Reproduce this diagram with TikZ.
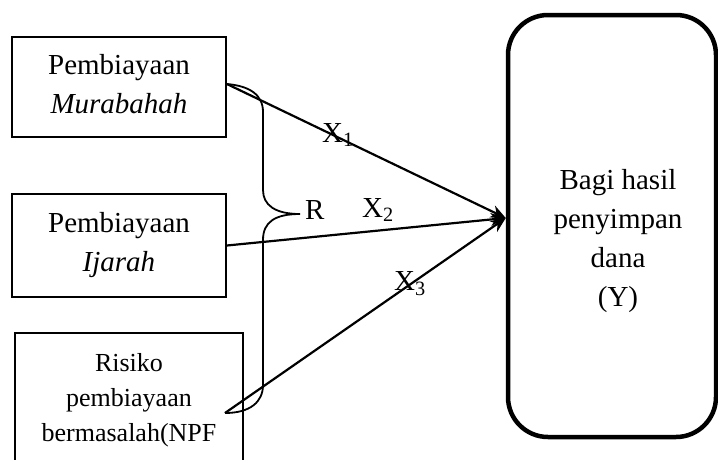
\documentclass[tikz,border=0pt]{standalone}
\usepackage{fontspec}
\setmainfont{Liberation Serif}
\usetikzlibrary{arrows.meta}
\begin{document}
\begin{tikzpicture}[x=1pt,y=-1pt,
  box/.style={draw,line width=1.8pt,align=center,inner sep=0pt,font=\fontsize{29}{39}\selectfont},
  bigbox/.style={draw,line width=4.5pt,rounded corners=40pt,align=center,inner sep=0pt,font=\fontsize{29}{39}\selectfont},
  conn/.style={line width=2.2pt,-{Stealth[length=15pt,width=13pt]}},
  brace/.style={line width=1.8pt},
  lbl/.style={anchor=west,inner sep=0pt,font=\fontsize{29}{29}\selectfont}]
\clip (0,0) rectangle (718,459);
\fill[white] (0,0) rectangle (718,459);
\node[box,minimum width=214pt,minimum height=100pt] (b1) at (119,87) {};
\node[align=center,inner sep=0pt,font=\fontsize{29}{39}\selectfont] (t1) at (119,84) {Pembiayaan\\\textit{Murabahah}};
\node[box,minimum width=214pt,minimum height=103pt] (b2) at (119,245.5) {Pembiayaan\\\textit{Ijarah}};
\node[box,minimum width=228pt,minimum height=150pt] (b3) at (129,408) {};
\node[align=center,inner sep=0pt,font=\fontsize{26}{35}\selectfont] (t3) at (129,400) {Risiko\\pembiayaan\\bermasalah(NPF};
\node[bigbox,minimum width=208pt,minimum height=422pt] (Y) at (612,226) {};
\node[align=center,inner sep=0pt,font=\fontsize{29}{39}\selectfont] (ty) at (618,241) {Bagi hasil\\penyimpan\\dana\\(Y)};
\coordinate (tip) at ([yshift=8pt]Y.west);
\coordinate (s1) at ([yshift=3pt]b1.east);
\coordinate (s2) at (b2.east);
\coordinate (s3) at (225,413);
\coordinate (r) at (300,214);
\draw[conn] (s1) -- (tip);
\draw[conn] (s2) -- (tip);
\draw[conn] (s3) -- (tip);
\draw[brace] (s1) .. controls (250,86) and (263,95) .. (263,112) -- (263,190)
  .. controls (263,205) and (275,214) .. (r)
  .. controls (275,214) and (263,222) .. (263,240) -- (263,385)
  .. controls (263,402) and (250,413) .. (s3);
\node[lbl] (lr) at (305,210) {R};
\node[lbl] (x1) at (322,135) {X\textsubscript{1}};
\node[lbl] (x2) at (362,210) {X\textsubscript{2}};
\node[lbl] (x3) at (394,284) {X\textsubscript{3}};
\end{tikzpicture}
\end{document}
